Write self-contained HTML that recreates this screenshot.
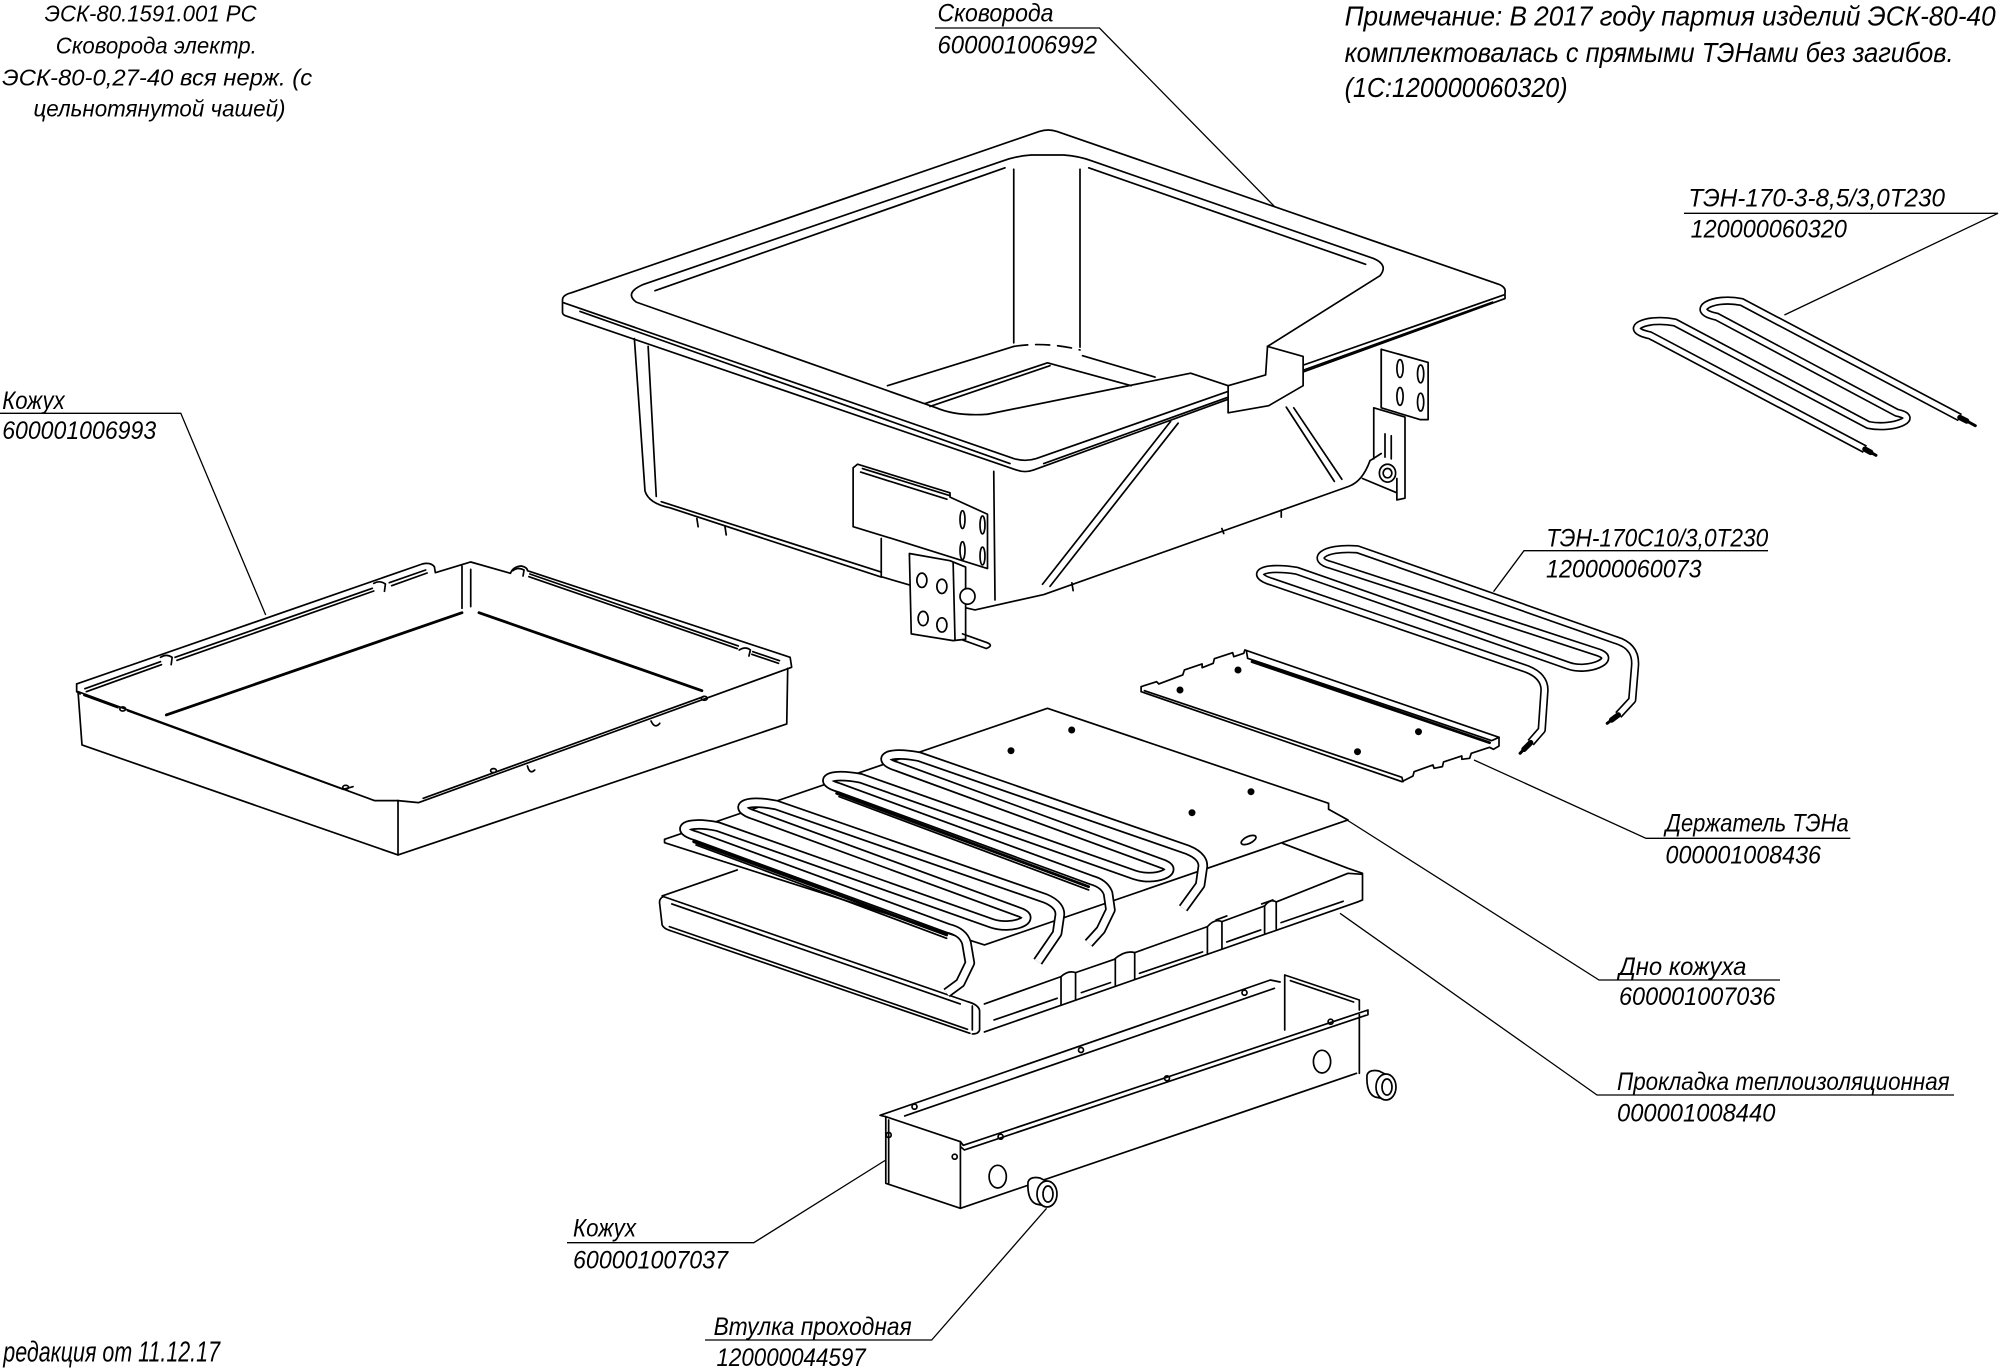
<!DOCTYPE html>
<html><head><meta charset="utf-8">
<style>
html,body{margin:0;padding:0;background:#fff;}
svg{display:block;}
svg *{vector-effect:non-scaling-stroke;}
.l{fill:none;stroke:#000;stroke-width:1.7;stroke-linejoin:round;stroke-linecap:round}
.th{fill:none;stroke:#000;stroke-width:2.8;stroke-linecap:round}
.w{fill:#fff;stroke:#000;stroke-width:1.7;stroke-linejoin:round}
.f{fill:#fff;stroke:none}
.ld{fill:none;stroke:#000;stroke-width:1.3}
.tb{fill:none;stroke:#000;stroke-width:8.5;stroke-linejoin:round;stroke-linecap:butt}
.tw{fill:none;stroke:#fff;stroke-width:5.2;stroke-linejoin:round;stroke-linecap:butt}
.tb2{fill:none;stroke:#000;stroke-width:10.5;stroke-linejoin:round;stroke-linecap:butt}
.tw2{fill:none;stroke:#fff;stroke-width:7;stroke-linejoin:round;stroke-linecap:butt}
.t{font-family:"Liberation Sans Narrow","Liberation Sans",sans-serif;font-style:italic;fill:#000}
</style></head><body>
<svg width="2000" height="1369" viewBox="0 0 2000 1369" xmlns="http://www.w3.org/2000/svg">
<rect width="2000" height="1369" fill="#fff"/>

<!-- ================= PAN (Сковорода) ================= -->
<g transform="translate(550,100) scale(0.625,0.3571)">
 <path class="l" d="M20,595 L20,560 Q20,546 34,540 L783,88 Q797,80 811,88 L1518,516 Q1530,524 1528,540 L1528,556 L774,1036 Q760,1045 746,1036 L28,606 Q20,602 20,595 Z"/>
 <path class="l" d="M22,568 L742,1004 Q760,1014 778,1004 L1526,546"/>
 <path class="l" d="M48,592 L736,1018"/>
 <path class="l" d="M790,1018 L1508,566"/>
 <path class="l" d="M150,516 L722,172 Q745,157 770,154 L822,154 Q846,157 866,170 L1318,444 Q1342,462 1328,492 L1148,690"/>
 <path class="l" d="M150,516 Q118,540 138,566 L618,862 Q650,886 700,880"/>
 <path class="l" d="M168,534 L728,190"/>
 <path class="l" d="M862,190 L1305,460"/>
 <path class="l" d="M742,194 L742,680"/>
 <path class="l" d="M848,194 L848,692"/>
 <path class="l" d="M540,800 L742,690"/>
 <path class="l" stroke-dasharray="14 8" d="M742,690 Q795,676 848,700"/>
 <path class="l" d="M852,716 L968,776"/>
 <path class="l" d="M600,850 L796,736 L930,800"/>
 <path class="l" d="M608,858 L800,744"/>
 <!-- chute -->
 <path class="f" d="M1085,800 L1148,770 L1148,690 L1205,718 L1205,800 L1150,856 L1085,876 Z"/>
 <path class="l" d="M700,880 L1025,765 L1085,800 L1085,876 L1150,856 L1205,800 L1205,718 L1148,690 L1145,770 L1085,800"/>
 <!-- walls -->
 <path class="l" d="M135,668 L152,1095 Q158,1130 192,1142 L530,1336"/>
 <path class="l" d="M157,690 L170,1110"/>
 <path class="l" d="M178,1125 L530,1322"/>
 <path class="l" d="M710,1040 L712,1400"/>
 <path class="l" d="M660,1420 L680,1428 L790,1385 L1278,1082 Q1300,1068 1312,1010"/>
 <path class="l" d="M1005,905 L800,1362"/>
 <path class="l" d="M993,900 L788,1356"/>
 <path class="l" d="M1178,860 L1255,1068"/>
 <path class="l" d="M1190,862 L1267,1062"/>
 <path class="l" d="M1312,1010 L1330,990"/>
 <path class="l" d="M235,1172 L237,1195 M280,1195 L282,1218 M835,1352 L837,1374 M1170,1148 L1170,1168 M1075,1200 L1078,1214"/>
 <!-- front bracket A -->
 <path class="w" d="M485,1030 L492,1020 L640,1100 L640,1112 L700,1160 L700,1312 L560,1235 L485,1195 Z"/>
 <path class="l" d="M500,1032 L640,1108"/>
 <path class="l" d="M497,1042 L635,1118"/>
 <ellipse class="l" cx="660" cy="1175" rx="4" ry="25"/>
 <ellipse class="l" cx="692" cy="1190" rx="4" ry="25"/>
 <ellipse class="l" cx="660" cy="1262" rx="4" ry="25"/>
 <ellipse class="l" cx="692" cy="1277" rx="4" ry="25"/>
 <path class="l" d="M530,1228 L530,1335 L575,1358"/>
 <!-- bracket B -->
 <path class="w" d="M575,1270 L640,1290 L665,1308 L665,1510 L645,1514 L578,1495 Z"/>
 <path class="l" d="M645,1295 L648,1512"/>
 <ellipse class="l" cx="595" cy="1345" rx="8" ry="20"/>
 <ellipse class="l" cx="627" cy="1362" rx="8" ry="20"/>
 <ellipse class="l" cx="597" cy="1452" rx="8" ry="20"/>
 <ellipse class="l" cx="627" cy="1470" rx="8" ry="20"/>
 <ellipse class="w" cx="668" cy="1390" rx="12" ry="22"/>
 <path class="l" d="M660,1495 L700,1520 M660,1512 L698,1536 M700,1520 Q710,1528 698,1536"/>
 <!-- right bracket -->
 <path class="l" d="M1330,698 L1330,860"/>
 <path class="w" d="M1330,698 L1405,735 L1405,895 L1392,895 L1330,862 Z"/>
 <ellipse class="l" cx="1360" cy="752" rx="5" ry="25"/>
 <ellipse class="l" cx="1393" cy="767" rx="5" ry="25"/>
 <ellipse class="l" cx="1360" cy="830" rx="5" ry="25"/>
 <ellipse class="l" cx="1393" cy="846" rx="5" ry="25"/>
 <path class="l" d="M1318,862 L1368,888 L1368,1115 L1355,1120 L1355,1060 M1318,862 L1318,1005 M1336,935 L1336,1000 M1346,940 L1346,1005 M1300,1060 L1355,1100"/>
 <ellipse class="w" cx="1340" cy="1045" rx="13" ry="25"/>
 <ellipse class="l" cx="1340" cy="1045" rx="7" ry="13"/>
</g>

<!-- ================= LEFT TRAY (Кожух) ================= -->
<g transform="translate(50,540) scale(0.4847,0.3333)">
 <path class="l" d="M55,432 L768,72 Q785,66 793,80 L795,98 L868,66 L950,100 Q955,80 972,78 Q985,82 985,92 L1527,352 L1530,380"/>
 <path class="l" d="M55,432 L55,455 L62,462"/>
 <path class="l" d="M72,446 L228,365 M258,352 L665,145 M700,128 L775,90"/>
 <path class="l" d="M75,455 L230,374 M262,361 L668,153 M705,137 L778,99"/>
 <path class="l" d="M228,352 Q240,340 252,352 L250,374 M668,130 Q680,120 692,132 L690,154"/>
 <path class="l" d="M990,102 L1420,318 M1450,335 L1505,362"/>
 <path class="l" d="M988,110 L1418,326 M1448,343 L1503,370"/>
 <path class="l" d="M1422,330 Q1435,318 1445,330 L1442,348 M955,92 Q965,80 978,90 L976,108"/>
 <path class="l" d="M850,78 L850,205 M868,88 L868,200"/>
 <path class="th" d="M240,525 L850,218"/>
 <path class="th" d="M885,218 L1345,452"/>
 <path class="l" d="M58,455 L670,782 L718,782"/>
 <path class="l" d="M70,466 L140,503 M160,512 L605,748 L625,740"/>
 <circle class="l" cx="150" cy="507" r="6"/>
 <circle class="l" cx="610" cy="742" r="6"/>
 <path class="l" d="M718,782 L760,788 L1530,382"/>
 <path class="l" d="M770,775 L1348,470"/>
 <circle class="l" cx="915" cy="692" r="6"/>
 <circle class="l" cx="1350" cy="475" r="6"/>
 <path class="l" d="M58,458 L66,615 L718,945 L1520,552 L1522,385"/>
 <path class="l" d="M718,782 L718,945"/>
 <path class="l" d="M985,678 Q990,705 1000,690 M1240,543 Q1248,568 1258,550"/>
</g>

<!-- ================= HEATER 1 (ТЭН-170-3) ================= -->
<g transform="translate(1620,280) scale(0.3333)">
 <path class="tb" d="M735,507.6 L90,166 C2,148 77,110 165,127.5 L745,435 C821,450 906,413 830,398 L290,110 C202,92 277,48 365,66 L1020,412.6"/>
 <path class="tw" d="M735,507.6 L90,166 C2,148 77,110 165,127.5 L745,435 C821,450 906,413 830,398 L290,110 C202,92 277,48 365,66 L1020,412.6"/>
 <path class="l" style="stroke-width:5.5" d="M735,507.6 L752,517"/>
 <path class="l" style="stroke-width:3" d="M752,517 L768,526"/>
 <path class="l" style="stroke-width:5.5" d="M1020,412.6 L1040,423"/>
 <path class="l" style="stroke-width:3" d="M1040,423 L1066,437"/>
</g>

<!-- ================= HOLDER + HEATER 2 ================= -->
<g transform="translate(1130,500) scale(0.5549,0.3333)">
 <path class="w" d="M20,560 L48,545 L52,552 L95,525 L98,510 L130,492 L130,503 L150,490 L152,476 L185,458 L187,470 L205,460 L207,450 L665,712 L665,738 L655,748 L648,742 L615,760 L612,775 L598,778 L598,768 L565,786 L563,800 L548,805 L546,795 L512,815 L510,828 L490,845 L20,575 Z"/>
 <path class="l" d="M26,572 L490,832 L492,845"/>
 <path class="l" d="M210,455 L212,475 L652,722 L665,712"/>
 <path class="th" d="M220,485 L648,728"/>
 <path class="tb" d="M722,728 L742,690 L747,570 C747,540 735,520 715,507 L255,245 C215,225 235,195 300,212 L790,497 C825,518 880,480 845,458 L362,195 C325,180 345,140 410,148 L875,420 C905,435 912,465 910,500 L905,600 L880,645"/>
 <path class="tw" d="M722,728 L742,690 L747,570 C747,540 735,520 715,507 L255,245 C215,225 235,195 300,212 L790,497 C825,518 880,480 845,458 L362,195 C325,180 345,140 410,148 L875,420 C905,435 912,465 910,500 L905,600 L880,645"/>
 <path class="l" style="stroke-width:5.5" d="M722,728 L710,748"/>
 <path class="l" style="stroke-width:3" d="M710,748 L703,760"/>
 <path class="l" style="stroke-width:5.5" d="M880,645 L868,660"/>
 <path class="l" style="stroke-width:3" d="M868,660 L860,670"/>
</g>
<circle cx="1180" cy="690" r="3.5" fill="#000"/>
<circle cx="1238" cy="670" r="3.5" fill="#000"/>
<circle cx="1418.5" cy="731.7" r="3.5" fill="#000"/>
<circle cx="1357.5" cy="751.7" r="3.5" fill="#000"/>

<!-- ================= CENTER ASSEMBLY ================= -->
<g transform="translate(650,540) scale(0.4847,0.3333)">
 <!-- slab -->
 <path class="f" d="M25,1068 L180,990 L600,1180 L1300,905 L1470,1000 L1470,1080 L690,1478 L665,1482 L28,1165 Z"/>
 <path class="l" d="M25,1068 L180,990"/>
 <path class="l" d="M28,1070 Q18,1075 20,1092 L25,1155 Q28,1166 42,1172 L660,1480"/>
 <path class="l" d="M28,1070 L655,1385 Q678,1394 680,1412 L680,1470 Q678,1482 665,1482"/>
 <path class="l" d="M45,1092 L640,1392"/>
 <path class="l" d="M40,1160 L655,1468"/>
 <path class="l" d="M665,1398 L665,1470"/>
 <path class="l" d="M690,1392 L848,1310 Q863,1290 878,1298 L958,1258 Q980,1230 1000,1238 L1150,1160 Q1165,1135 1180,1145 L1268,1098 Q1280,1075 1292,1086 L1440,1000 L1470,1003 L1470,1080 L1460,1086"/>
 <path class="l" d="M690,1476 L1460,1086"/>
 <path class="l" d="M848,1310 L848,1395 M878,1298 L878,1380 M960,1258 L960,1338 M1000,1238 L1000,1318 M1150,1160 L1150,1242 M1180,1145 L1180,1227 M1268,1098 L1268,1180 M1292,1086 L1292,1168"/>
 <path class="l" d="M710,1440 L840,1375 M890,1358 L950,1328 M1010,1300 L1140,1236 M1190,1206 L1260,1170 M1302,1148 L1430,1084"/>
 <path class="l" d="M1305,910 L1440,985 L1470,1000"/>
 <path class="l" d="M1168,1140 L1190,1128 M1262,1092 L1285,1080"/>
 <!-- plate -->
 <path class="w" d="M30,898 L820,505 L1400,790 L1400,808 L1440,840 L690,1215 L30,908 Z"/>
 <!-- channels -->
 <path class="th" d="M90,905 L612,1185"/>
 <path class="l" d="M95,915 L612,1195"/>
 <path class="th" d="M385,760 L905,1040"/>
 <path class="l" d="M390,770 L905,1050"/>
 <!-- right (back) heater -->
 <path class="tb2" d="M905,1210 L930,1170 L950,1110 L945,1060 C940,1040 928,1027 910,1020 L390,743 C345,725 365,695 435,715 L1000,1005 C1040,1025 1095,995 1060,973 L510,680 C465,660 485,630 555,650 L1110,930 C1135,945 1143,965 1140,985 L1135,1035 L1100,1105"/>
 <path class="tw2" d="M905,1210 L930,1170 L950,1110 L945,1060 C940,1040 928,1027 910,1020 L390,743 C345,725 365,695 435,715 L1000,1005 C1040,1025 1095,995 1060,973 L510,680 C465,660 485,630 555,650 L1110,930 C1135,945 1143,965 1140,985 L1135,1035 L1100,1105"/>
 <!-- left (front) heater -->
 <path class="tb2" d="M612,1359 L640,1329 L660,1269 L653,1209 C648,1185 635,1172 615,1165 L95,888 C50,870 70,840 140,860 L705,1150 C745,1170 800,1140 765,1118 L215,825 C170,805 190,775 260,795 L815,1075 C840,1090 848,1110 845,1130 L840,1180 L800,1265"/>
 <path class="tw2" d="M612,1359 L640,1329 L660,1269 L653,1209 C648,1185 635,1172 615,1165 L95,888 C50,870 70,840 140,860 L705,1150 C745,1170 800,1140 765,1118 L215,825 C170,805 190,775 260,795 L815,1075 C840,1090 848,1110 845,1130 L840,1180 L800,1265"/>
</g>
<circle cx="1071.7" cy="730" r="3.5" fill="#000"/>
<circle cx="1011" cy="750.7" r="3.5" fill="#000"/>
<circle cx="1251" cy="791.7" r="3.5" fill="#000"/>
<circle cx="1192" cy="812.7" r="3.5" fill="#000"/>
<ellipse class="l" cx="1248.6" cy="840" rx="8" ry="3.5" transform="rotate(-25 1248.6 840)"/>

<!-- ================= BOTTOM BOX (Кожух) ================= -->
<g transform="translate(550,960) scale(0.574,0.3333)">
 <path class="l" d="M585,470 L715,545 L715,745 L585,670 Z"/>
 <path class="l" d="M590,480 L590,670"/>
 <path class="l" d="M585,470 L575,466 L1255,60 L1272,66"/>
 <path class="l" d="M618,468 L1262,85"/>
 <path class="l" d="M715,545 L720,556 L1425,150 L1425,164 L722,570 L715,560"/>
 <path class="l" d="M1280,45 L1410,120 L1410,150 M1280,45 L1280,210 M1290,62 L1400,126"/>
 <path class="l" d="M1410,164 L1410,340"/>
 <path class="l" d="M715,745 L1405,340"/>
 <ellipse class="l" cx="780" cy="650" rx="15" ry="34"/>
 <ellipse class="l" cx="1345" cy="305" rx="15" ry="34"/>
</g>
<g class="l">
 <circle cx="914.5" cy="1106.7" r="2.5"/><circle cx="1081" cy="1050" r="2.5"/><circle cx="1244.5" cy="992.7" r="2.5"/>
 <circle cx="888.7" cy="1135" r="2.5"/><circle cx="954.7" cy="1156.7" r="2.5"/><circle cx="1000.6" cy="1136.7" r="2.5"/>
 <circle cx="1167" cy="1078.3" r="2.5"/><circle cx="1330.6" cy="1021.7" r="2.5"/>
</g>
<!-- bushings -->
<g>
 <path class="w" d="M1028,1182 Q1030,1176 1040,1178 L1048,1182 L1046,1206 L1036,1204 Q1027,1200 1028,1182 Z"/>
 <ellipse class="w" cx="1047" cy="1194" rx="10" ry="13"/>
 <ellipse class="l" cx="1048" cy="1194" rx="5" ry="8"/>
 <path class="w" d="M1367,1075 Q1369,1069 1379,1071 L1387,1075 L1385,1099 L1375,1097 Q1366,1093 1367,1075 Z"/>
 <ellipse class="w" cx="1386" cy="1087" rx="10" ry="13"/>
 <ellipse class="l" cx="1387" cy="1087" rx="5" ry="8"/>
</g>

<!-- ================= LEADERS ================= -->
<path class="ld" d="M0,413.3 L180.8,413.3 L265.7,615"/>
<path class="ld" d="M935,28 L1099.5,28 L1275,207"/>
<path class="ld" d="M1684,213.3 L1998,213.3 L1784.4,315"/>
<path class="ld" d="M1768,550.7 L1524,550.7 L1493.5,591.7"/>
<path class="ld" d="M1850.3,838.3 L1646,838.3 L1474,760"/>
<path class="ld" d="M1780,980 L1599,980 L1347,820"/>
<path class="ld" d="M1954,1095 L1597,1095 L1340,913.3"/>
<path class="ld" d="M567,1242.7 L753.8,1242.7 L885.8,1160"/>
<path class="ld" d="M705,1340 L931.7,1340 L1046.6,1208.3"/>

<!-- ================= TEXT ================= -->
<g class="t" font-size="23">
 <text x="44.6" y="21.7" textLength="212" lengthAdjust="spacingAndGlyphs">ЭСК-80.1591.001 РС</text>
 <text x="55.8" y="53.6" textLength="201" lengthAdjust="spacingAndGlyphs">Сковорода электр.</text>
 <text x="2.2" y="85.5" textLength="310" lengthAdjust="spacingAndGlyphs">ЭСК-80-0,27-40 вся нерж. (с</text>
 <text x="33.5" y="116.5" textLength="252" lengthAdjust="spacingAndGlyphs">цельнотянутой чашей)</text>
</g>
<g class="t" font-size="28">
 <text x="1344.6" y="25.7" textLength="651" lengthAdjust="spacingAndGlyphs">Примечание: В 2017 году партия изделий ЭСК-80-40</text>
 <text x="1344.6" y="62" textLength="609" lengthAdjust="spacingAndGlyphs">комплектовалась с прямыми ТЭНами без загибов.</text>
 <text x="1344.6" y="97" textLength="223" lengthAdjust="spacingAndGlyphs">(1С:120000060320)</text>
</g>
<g class="t" font-size="25">
 <text x="937.5" y="21.7" textLength="116" lengthAdjust="spacingAndGlyphs">Сковорода</text>
 <text x="937.5" y="53.6" textLength="159.5" lengthAdjust="spacingAndGlyphs">600001006992</text>
 <text x="2.2" y="409" textLength="62.5" lengthAdjust="spacingAndGlyphs">Кожух</text>
 <text x="2.2" y="439" textLength="154" lengthAdjust="spacingAndGlyphs">600001006993</text>
 <text x="1688.4" y="206.7" textLength="256.6" lengthAdjust="spacingAndGlyphs">ТЭН-170-3-8,5/3,0Т230</text>
 <text x="1690.6" y="237.3" textLength="156.3" lengthAdjust="spacingAndGlyphs">120000060320</text>
 <text x="1546.2" y="546.7" textLength="222" lengthAdjust="spacingAndGlyphs">ТЭН-170С10/3,0Т230</text>
 <text x="1546" y="577.3" textLength="155.6" lengthAdjust="spacingAndGlyphs">120000060073</text>
 <text x="1665.5" y="831.7" textLength="183.2" lengthAdjust="spacingAndGlyphs">Держатель ТЭНа</text>
 <text x="1665.5" y="863.3" textLength="155.5" lengthAdjust="spacingAndGlyphs">000001008436</text>
 <text x="1619" y="975" textLength="127.4" lengthAdjust="spacingAndGlyphs">Дно кожуха</text>
 <text x="1619" y="1005" textLength="156.4" lengthAdjust="spacingAndGlyphs">600001007036</text>
 <text x="1617" y="1090" textLength="332.6" lengthAdjust="spacingAndGlyphs">Прокладка теплоизоляционная</text>
 <text x="1617" y="1121.7" textLength="158.4" lengthAdjust="spacingAndGlyphs">000001008440</text>
 <text x="573" y="1236.7" textLength="63" lengthAdjust="spacingAndGlyphs">Кожух</text>
 <text x="573" y="1268.3" textLength="155" lengthAdjust="spacingAndGlyphs">600001007037</text>
 <text x="713.6" y="1335" textLength="198" lengthAdjust="spacingAndGlyphs">Втулка проходная</text>
 <text x="716.5" y="1366" textLength="149.2" lengthAdjust="spacingAndGlyphs">120000044597</text>
</g>
<text class="t" font-size="29" x="3.3" y="1361.7" textLength="216.7" lengthAdjust="spacingAndGlyphs">редакция от 11.12.17</text>
</svg>
</body></html>
